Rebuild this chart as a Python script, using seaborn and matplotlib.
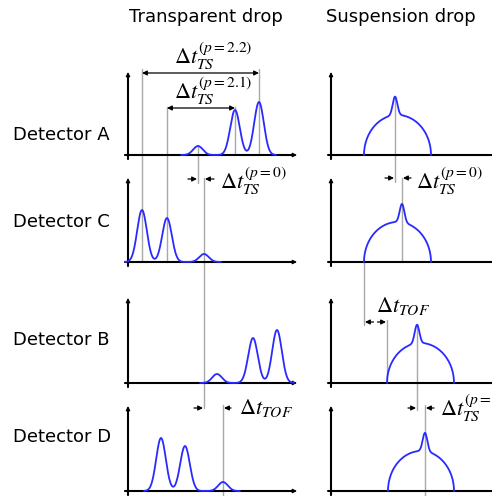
import numpy as np
import seaborn as sns
import matplotlib.pyplot as plt

sns.set_style("white")
plt.rcParams['font.family'] = ['DejaVu Sans']
plt.rcParams['mathtext.fontset'] = 'stix'
plt.rcParams['text.color'] = 'black'

W, H = 492, 496

row_labels = ["Detector A", "Detector C", "Detector B", "Detector D"]
col_titles = ["Transparent drop", "Suspension drop"]

# transparent drop: pulse times (measured from the y axis) and heights
clear_t_A = [70, 107, 131]
clear_h_A = [9, 45, 53]
clear_t_C = [14, 39, 76]
clear_h_C = [52, 44, 8]
clear_t_B = [89, 125, 149]
clear_h_B = [9, 45, 53]
clear_t_D = [33, 57, 95]
clear_h_D = [53, 45, 9]
pulse_sigma = 4.8

# suspension drop: dome start / end and narrow peak time, per row A, C, B, D
susp_start = [33, 33, 56, 57]
susp_end = [100, 100, 123, 123]
susp_peak = [64, 71, 86, 94]
dome_h = 40
spike_h = 18.5
spike_sigma = 2.3

# layout (pixels)
x0 = [128, 331]              # y axis of left / right column
base = [155, 262, 383, 491]  # baseline of each row
ytop = [72, 178, 298, 406]   # top of the y axis arrow
xend = [297, 505]

BLUE = '#2a2aff'
GREY = '#a8a8a8'

fig = plt.figure(figsize=(W / 100, H / 100), dpi=100)
ax = fig.add_axes([0, 0, 1, 1])
ax.set_xlim(0, W)
ax.set_ylim(H, 0)
ax.axis('off')


def arrow(x1, y1, x2, y2, style='-|>', ms=7):
    ax.annotate('', xy=(x2, y2), xytext=(x1, y1),
                arrowprops=dict(arrowstyle=style, color='black', lw=0.9,
                                mutation_scale=ms, shrinkA=0, shrinkB=0))


def vline(x, y1, y2):
    ax.plot([x, x], [y1, y2], color=GREY, lw=1.0, zorder=1)


# axes of every panel
for c in range(2):
    for r in range(4):
        ax.plot([x0[c], x0[c]], [base[r] + 4, ytop[r] + 3], color='black', lw=1.5, zorder=3)
        arrow(x0[c], base[r] + 4, x0[c], ytop[r], ms=6)
        ax.plot([x0[c] - 3, xend[c] - 3], [base[r], base[r]], color='black', lw=1.5, zorder=3)
        arrow(x0[c] - 3, base[r], xend[c], base[r], ms=6)

# transparent drop pulses
clear_t = [clear_t_A, clear_t_C, clear_t_B, clear_t_D]
clear_h = [clear_h_A, clear_h_C, clear_h_B, clear_h_D]
for r in range(4):
    t = np.linspace(min(clear_t[r]) - 17, max(clear_t[r]) + 17, 400)
    amp = np.zeros_like(t)
    for tp, hp in zip(clear_t[r], clear_h[r]):
        amp += hp * np.exp(-0.5 * ((t - tp) / pulse_sigma) ** 2)
    sns.lineplot(x=x0[0] + t, y=base[r] - amp, ax=ax, color=BLUE, lw=1.3,
                 sort=False, estimator=None, zorder=4)

# suspension drop domes
for r in range(4):
    cen = (susp_start[r] + susp_end[r]) / 2
    rad = (susp_end[r] - susp_start[r]) / 2
    th = np.linspace(np.pi, 0, 500)
    t = cen + rad * np.cos(th)
    amp = dome_h * np.sin(th) + spike_h * np.exp(-0.5 * ((t - susp_peak[r]) / spike_sigma) ** 2) * np.sin(th) ** 0.3
    sns.lineplot(x=x0[1] + t, y=base[r] - amp, ax=ax, color=BLUE, lw=1.3,
                 sort=False, estimator=None, zorder=4)

# guide lines, left column
L = x0[0]
vline(L + clear_t_C[0], 69, base[1])
vline(L + clear_t_C[1], 107, base[1])
vline(L + clear_t_A[1], 107, base[0])
vline(L + clear_t_A[2], 69, base[0])
vline(L + clear_t_A[0], 146, 183)
vline(L + clear_t_C[2], 178, 408)
vline(L + clear_t_D[2], 405, H)

# guide lines, right column
R = x0[1]
vline(R + susp_peak[0], 97, 182)
vline(R + susp_peak[1], 178, base[1])
vline(R + susp_start[1], base[1], 325)
vline(R + susp_start[2], 320, base[2])
vline(R + susp_peak[2], 324, 410)
vline(R + susp_peak[3], 405, H)

# time difference arrows
arrow(L + clear_t_C[0], 73, L + clear_t_A[2], 73, style='<|-|>', ms=7)
arrow(L + clear_t_C[1], 108, L + clear_t_A[1], 108, style='<|-|>', ms=7)
arrow(L + clear_t_A[0] - 10, 179, L + clear_t_A[0] - 1, 179)
arrow(L + clear_t_C[2] + 10, 179, L + clear_t_C[2] + 1, 179)
arrow(L + clear_t_C[2] - 10, 408, L + clear_t_C[2] - 1, 408)
arrow(L + clear_t_D[2] + 8, 408, L + clear_t_D[2] + 1, 408)

arrow(R + susp_peak[0] - 10, 178, R + susp_peak[0] - 1, 178)
arrow(R + susp_peak[1] + 9, 178, R + susp_peak[1] + 1, 178)
arrow(R + susp_peak[2] - 9, 408, R + susp_peak[2] - 1, 408)
arrow(R + susp_peak[3] + 9, 408, R + susp_peak[3] + 1, 408)
mid = R + (susp_start[1] + susp_start[2]) / 2
arrow(mid - 2, 322, R + susp_start[1] + 1, 322)
arrow(mid + 2, 322, R + susp_start[2] - 1, 322)

# labels
mfs = 16
ax.text(174, 56, r'$\Delta t_{TS}^{(p=2.2)}$', fontsize=mfs, ha='left', va='center')
ax.text(174, 91, r'$\Delta t_{TS}^{(p=2.1)}$', fontsize=mfs, ha='left', va='center')
ax.text(220, 181, r'$\Delta t_{TS}^{(p=0)}$', fontsize=mfs, ha='left', va='center')
ax.text(416, 181, r'$\Delta t_{TS}^{(p=0)}$', fontsize=mfs, ha='left', va='center')
ax.text(239, 408, r'$\Delta t_{TOF}$', fontsize=mfs, ha='left', va='center')
ax.text(376, 306, r'$\Delta t_{TOF}$', fontsize=mfs, ha='left', va='center')
ax.text(440, 408, r'$\Delta t_{TS}^{(p=0)}$', fontsize=mfs, ha='left', va='center')

ax.text(206, 17, col_titles[0], fontsize=13, ha='center', va='center')
ax.text(401, 17, col_titles[1], fontsize=13, ha='center', va='center')
for lab, yy in zip(row_labels, [135, 222, 340, 437]):
    ax.text(13, yy, lab, fontsize=13, ha='left', va='center')

fig.savefig('out.png', dpi=100)
